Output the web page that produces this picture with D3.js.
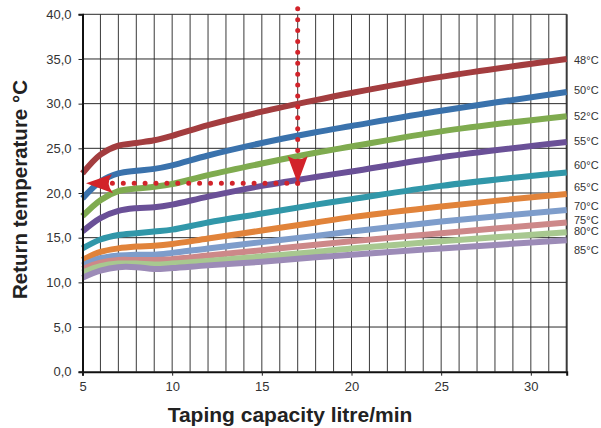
<!DOCTYPE html>
<html>
<head>
<meta charset="utf-8">
<script src="https://cdn.jsdelivr.net/npm/d3@7"></script>
<style>
  body { margin: 0; background: #fff; }
  svg { font-family: "Liberation Sans", Arial, sans-serif; }
</style>
</head>
<body>
<svg id="chart" width="601" height="428"></svg>
<script>
// taping capacity (litre/min) where the curves were read
const flow = [5, 6, 7, 8, 9, 10, 12, 15, 18, 20, 25, 32];

const supplyTemps = ["48°C", "50°C", "52°C", "55°C", "60°C", "65°C", "70°C", "75°C", "80°C", "85°C"];
const colors = ["#a33d3f", "#3a72ac", "#7fab4f", "#6a5097", "#3197a9", "#e1833a", "#7e9dcb", "#cd8889", "#a8c890", "#9c8bb7"];

const t48 = [22.2, 24.3, 25.3, 25.6, 25.9, 26.4, 27.6, 29.1, 30.4, 31.2, 33.0, 35.0];
const t50 = [19.4, 21.3, 22.2, 22.5, 22.7, 23.1, 24.2, 25.6, 26.8, 27.5, 29.2, 31.3];
const t52 = [17.4, 19.2, 20.2, 20.5, 20.7, 21.0, 22.0, 23.3, 24.5, 25.2, 26.9, 28.6];
const t55 = [15.7, 17.2, 18.0, 18.3, 18.4, 18.7, 19.6, 20.8, 21.8, 22.4, 24.0, 25.7];
const t60 = [13.8, 14.8, 15.3, 15.5, 15.7, 15.9, 16.7, 17.7, 18.7, 19.3, 20.8, 22.3];
const t65 = [12.5, 13.4, 13.8, 14.0, 14.1, 14.3, 14.9, 15.8, 16.7, 17.3, 18.5, 19.9];
const t70 = [11.9, 12.7, 13.0, 13.1, 13.1, 13.3, 13.8, 14.5, 15.2, 15.7, 16.8, 18.1];
const t75 = [11.5, 12.2, 12.5, 12.5, 12.5, 12.6, 13.0, 13.6, 14.2, 14.6, 15.5, 16.7];
const t80 = [11.1, 11.8, 12.1, 12.1, 12.0, 12.1, 12.4, 12.9, 13.4, 13.8, 14.6, 15.6];
const t85 = [10.5, 11.3, 11.7, 11.7, 11.5, 11.6, 11.9, 12.3, 12.8, 13.1, 13.8, 14.7];
const returnTemps = [t48, t50, t52, t55, t60, t65, t70, t75, t80, t85];

// where the series labels sit on the right (°C)
const labelY = [34.9, 31.5, 28.6, 25.8, 23.1, 20.7, 18.5, 17.0, 15.7, 13.6];

const yTicks = [0, 5, 10, 15, 20, 25, 30, 35, 40];
const xTicks = [5, 10, 15, 20, 25, 30];

// reading example: 17 l/min on the 48°C line -> 21.1°C
const exampleFlow = 17;
const exampleTop = 41.6;
const exampleReturn = 21.1;
const exampleLeft = 6.5;

const svg = d3.select("#chart");

const x = d3.scaleLinear().domain([5, 32]).range([82.5, 566.7]);
const y = d3.scaleLinear().domain([0, 40]).range([371.7, 14.3]);

// grid
const grid = svg.append("g");
grid.selectAll("line.v")
  .data(d3.range(6, 33))
  .enter().append("line")
  .attr("class", "v")
  .attr("x1", d => x(d)).attr("x2", d => x(d))
  .attr("y1", y(0)).attr("y2", y(40))
  .attr("stroke", "#3a3a3a")
  .attr("stroke-width", d => d === 32 ? 2 : 1);

grid.selectAll("line.h")
  .data(yTicks.slice(1))
  .enter().append("line")
  .attr("class", "h")
  .attr("x1", x(5)).attr("x2", x(32))
  .attr("y1", d => y(d)).attr("y2", d => y(d))
  .attr("stroke", "#2a2a2a")
  .attr("stroke-width", 1);

// curves
const line = d3.line()
  .x((d, i) => x(flow[i]))
  .y(d => y(d))
  .curve(d3.curveCatmullRom.alpha(0.5));

svg.append("g")
  .selectAll("path")
  .data(returnTemps)
  .enter().append("path")
  .attr("d", line)
  .attr("fill", "none")
  .attr("stroke", (d, i) => colors[i])
  .attr("stroke-width", 6);

// series labels
svg.append("g")
  .selectAll("text")
  .data(supplyTemps)
  .enter().append("text")
  .attr("x", 574)
  .attr("y", (d, i) => y(labelY[i]))
  .attr("dy", "0.35em")
  .attr("font-size", 11)
  .attr("fill", "#333")
  .text(d => d);

// axes
const yAxis = d3.axisLeft(y)
  .tickValues(yTicks)
  .tickSize(4)
  .tickPadding(7)
  .tickFormat(d => d3.format(".1f")(d).replace(".", ","));

const xAxis = d3.axisBottom(x)
  .tickValues(xTicks)
  .tickSize(4)
  .tickPadding(6);

const gy = svg.append("g")
  .attr("transform", `translate(${x(5)},0)`)
  .call(yAxis);

const gx = svg.append("g")
  .attr("transform", `translate(0,${y(0)})`)
  .call(xAxis);

[gx, gy].forEach(g => {
  g.select(".domain").attr("stroke", "#111").attr("stroke-width", 2);
  g.selectAll(".tick line").attr("stroke", "#222");
  g.selectAll(".tick text")
    .attr("font-size", 13)
    .attr("font-family", "\"Liberation Sans\", Arial, sans-serif")
    .attr("fill", "#333");
});

// axis titles
svg.append("text")
  .attr("transform", `translate(27,${(77 + 302) / 2}) rotate(-90)`)
  .attr("text-anchor", "middle")
  .attr("font-size", 20.5)
  .attr("font-weight", "bold")
  .attr("fill", "#222")
  .text("Return temperature °C");

svg.append("text")
  .attr("x", 290)
  .attr("y", 422)
  .attr("text-anchor", "middle")
  .attr("font-size", 21)
  .attr("font-weight", "bold")
  .attr("fill", "#222")
  .text("Taping capacity litre/min");

// reading example arrows
const red = "#d2232a";
const ex = svg.append("g");

ex.append("path")
  .attr("d", d3.line()([[x(exampleFlow), y(exampleReturn)], [x(exampleFlow), y(exampleTop)]]))
  .attr("stroke", red)
  .attr("stroke-width", 5)
  .attr("stroke-linecap", "round")
  .attr("stroke-dasharray", "0 10.9");

ex.append("path")
  .attr("d", d3.line()([[x(exampleFlow), y(exampleReturn)], [x(exampleLeft), y(exampleReturn)]]))
  .attr("stroke", red)
  .attr("stroke-width", 5)
  .attr("stroke-linecap", "round")
  .attr("stroke-dasharray", "0 10.9");

// down arrowhead, tip on the 55°C curve reading point
ex.append("path")
  .attr("transform", `translate(${x(exampleFlow)},${y(exampleReturn)})`)
  .attr("d", "M0,0 L-10,-27 Q0,-21 10,-27 Z")
  .attr("fill", red);

// left arrowhead at the axis
ex.append("path")
  .attr("transform", `translate(${x(5) + 3.5},${y(exampleReturn)})`)
  .attr("d", "M0,0 L26,-9 Q19,0 27,10 Z")
  .attr("fill", red);
</script>
</body>
</html>
